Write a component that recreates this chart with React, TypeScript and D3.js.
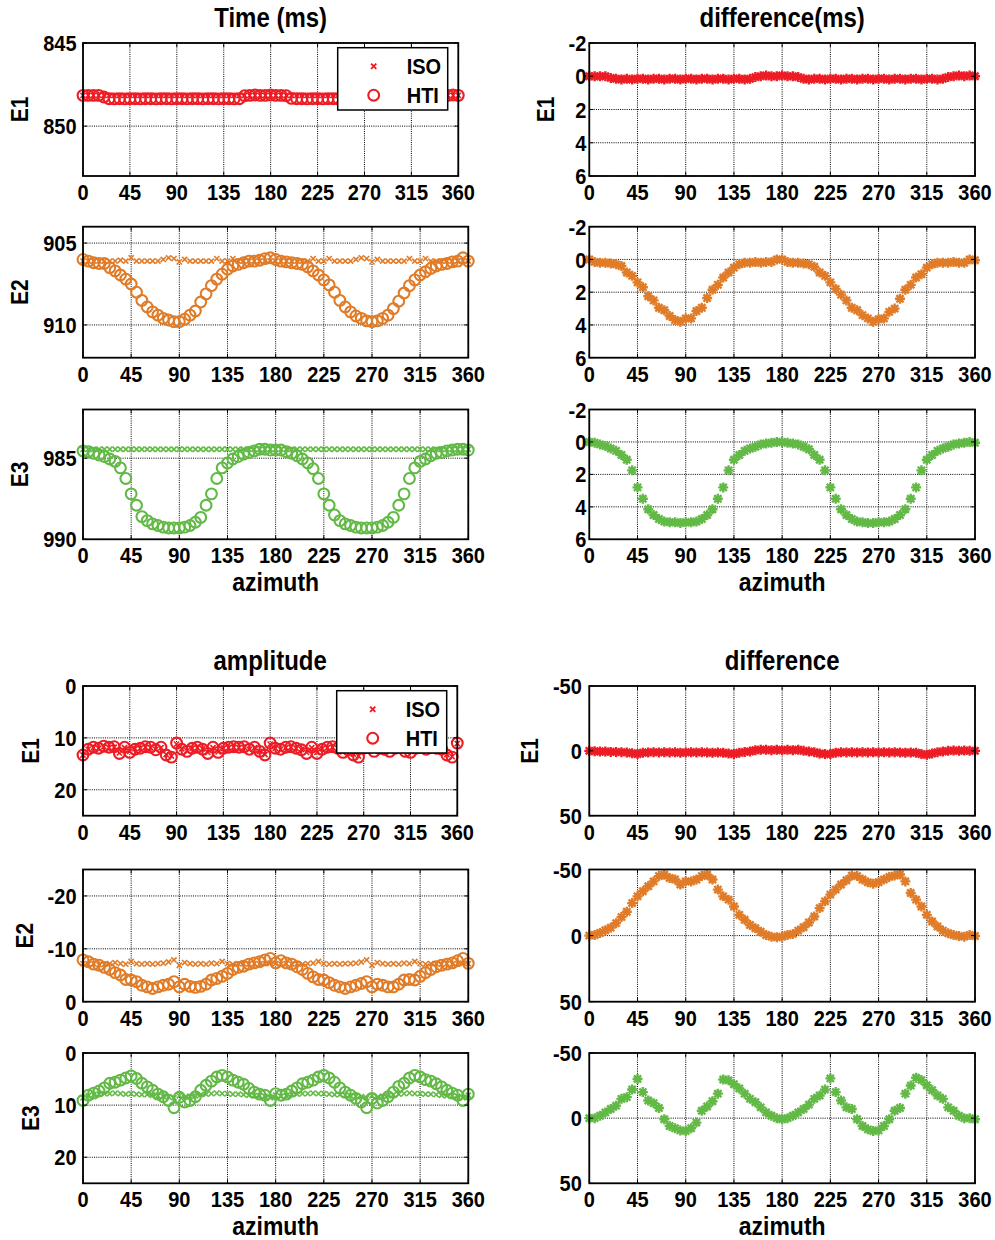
import React, { useEffect, useRef } from 'react';
import * as d3 from 'd3';

// azimuth samples (deg)
const AZIMUTH = [
  0, 5, 10, 15, 20, 25, 30, 35, 40, 45,
  50, 55, 60, 65, 70, 75, 80, 85, 90, 95,
  100, 105, 110, 115, 120, 125, 130, 135, 140, 145,
  150, 155, 160, 165, 170, 175, 180, 185, 190, 195,
  200, 205, 210, 215, 220, 225, 230, 235, 240, 245,
  250, 255, 260, 265, 270, 275, 280, 285, 290, 295,
  300, 305, 310, 315, 320, 325, 330, 335, 340, 345,
  350, 355, 360
];
const X_TICKS = [0, 45, 90, 135, 180, 225, 270, 315, 360];

// ---- Time (ms) ----
const TIME_E1_ISO = [
  848.15, 848.15, 848.15, 848.15, 848.15, 848.15, 848.15, 848.15, 848.15, 848.15,
  848.15, 848.15, 848.15, 848.15, 848.15, 848.15, 848.15, 848.15, 848.15, 848.15,
  848.15, 848.15, 848.15, 848.15, 848.15, 848.15, 848.15, 848.15, 848.15, 848.15,
  848.15, 848.15, 848.15, 848.15, 848.15, 848.15, 848.15, 848.15, 848.15, 848.15,
  848.15, 848.15, 848.15, 848.15, 848.15, 848.15, 848.15, 848.15, 848.15, 848.15,
  848.15, 848.15, 848.15, 848.15, 848.15, 848.15, 848.15, 848.15, 848.15, 848.15,
  848.15, 848.15, 848.15, 848.15, 848.15, 848.15, 848.15, 848.15, 848.15, 848.15,
  848.15, 848.15, 848.15
];
const TIME_E1_HTI = [
  848.15, 848.15, 848.15, 848.15, 848.25, 848.35, 848.36, 848.35, 848.36, 848.35,
  848.35, 848.36, 848.35, 848.35, 848.36, 848.35, 848.35, 848.36, 848.35, 848.35,
  848.36, 848.35, 848.35, 848.36, 848.35, 848.35, 848.36, 848.35, 848.35, 848.36,
  848.35, 848.17, 848.15, 848.13, 848.15, 848.15, 848.13, 848.15, 848.15, 848.17,
  848.33, 848.35, 848.35, 848.36, 848.35, 848.35, 848.36, 848.35, 848.35, 848.36,
  848.35, 848.35, 848.36, 848.35, 848.35, 848.36, 848.35, 848.35, 848.36, 848.35,
  848.35, 848.36, 848.35, 848.35, 848.36, 848.35, 848.33, 848.17, 848.15, 848.13,
  848.15, 848.13, 848.15
];
const TIME_E2_ISO = [
  906.1, 906.1, 906.1, 906.1, 906.1, 906.1, 906.1, 906.05, 906.1, 905.9,
  906.1, 906.1, 906.1, 906.1, 906.1, 906.0, 905.9, 905.95, 906.15, 906.0,
  906.1, 906.1, 906.1, 906.1, 906.1, 905.95, 906.1, 906.1, 905.95, 906.1,
  906.1, 906.1, 906.1, 906.1, 906.1, 906.1, 906.1, 906.1, 906.1, 906.1,
  906.1, 906.1, 906.1, 905.95, 906.1, 906.1, 905.95, 906.1, 906.1, 906.1,
  906.1, 906.0, 905.9, 905.95, 906.15, 906.0, 906.1, 906.1, 906.1, 906.1,
  906.1, 905.95, 906.1, 906.1, 905.95, 906.1, 906.1, 906.1, 906.1, 906.1,
  906.1, 906.1, 906.1
];
const TIME_E2_HTI = [
  906.0, 906.1, 906.2, 906.25, 906.25, 906.5, 906.7, 906.95, 907.2, 907.5,
  908.0, 908.5, 908.9, 909.2, 909.4, 909.6, 909.7, 909.8, 909.8, 909.65,
  909.4, 909.15, 908.6, 908.1, 907.6, 907.2, 906.9, 906.6, 906.4, 906.3,
  906.2, 906.1, 906.1, 906.05, 905.95, 905.9, 906.0, 906.1, 906.15, 906.2,
  906.25, 906.3, 906.45, 906.7, 906.95, 907.25, 907.55, 908.0, 908.5, 908.9,
  909.2, 909.45, 909.6, 909.75, 909.8, 909.75, 909.6, 909.4, 909.0, 908.55,
  908.05, 907.6, 907.25, 906.95, 906.75, 906.55, 906.4, 906.3, 906.25, 906.15,
  906.1, 905.9, 906.1
];
const TIME_E3_ISO = [
  984.45, 984.45, 984.45, 984.45, 984.45, 984.45, 984.45, 984.45, 984.45, 984.45,
  984.45, 984.45, 984.45, 984.45, 984.45, 984.45, 984.45, 984.45, 984.45, 984.45,
  984.45, 984.45, 984.45, 984.45, 984.45, 984.45, 984.45, 984.45, 984.45, 984.45,
  984.45, 984.45, 984.45, 984.45, 984.45, 984.45, 984.45, 984.45, 984.45, 984.45,
  984.45, 984.45, 984.45, 984.45, 984.45, 984.45, 984.45, 984.45, 984.45, 984.45,
  984.45, 984.45, 984.45, 984.45, 984.45, 984.45, 984.45, 984.45, 984.45, 984.45,
  984.45, 984.45, 984.45, 984.45, 984.45, 984.45, 984.45, 984.45, 984.45, 984.45,
  984.45, 984.45, 984.45
];
const TIME_E3_HTI = [
  984.55, 984.6, 984.7, 984.8, 984.9, 985.05, 985.2, 985.6, 986.25, 987.2,
  987.9, 988.6, 988.85, 989.05, 989.15, 989.25, 989.3, 989.3, 989.3, 989.25,
  989.15, 988.95, 988.65, 987.9, 987.2, 986.25, 985.6, 985.3, 985.05, 984.9,
  984.75, 984.65, 984.55, 984.45, 984.45, 984.5, 984.5, 984.5, 984.6, 984.7,
  984.85, 985.05, 985.3, 985.65, 986.25, 987.2, 987.9, 988.5, 988.85, 989.05,
  989.15, 989.25, 989.3, 989.3, 989.3, 989.25, 989.15, 988.95, 988.65, 987.9,
  987.2, 986.25, 985.6, 985.2, 985.05, 984.85, 984.7, 984.65, 984.55, 984.5,
  984.45, 984.45, 984.5
];

// ---- difference (ms) ----
const TIME_DIFF_E1 = [
  0, 0, 0, 0, 0.1, 0.15, 0.2, 0.15, 0.2, 0.15,
  0.15, 0.2, 0.15, 0.15, 0.2, 0.15, 0.15, 0.2, 0.15, 0.15,
  0.2, 0.15, 0.15, 0.2, 0.15, 0.15, 0.2, 0.15, 0.15, 0.2,
  0.15, 0.05, 0, -0.05, 0, 0, -0.05, 0, 0, 0.05,
  0.15, 0.2, 0.15, 0.15, 0.2, 0.15, 0.15, 0.2, 0.15, 0.15,
  0.2, 0.15, 0.15, 0.2, 0.15, 0.15, 0.2, 0.15, 0.15, 0.2,
  0.15, 0.15, 0.2, 0.15, 0.15, 0.2, 0.15, 0.05, 0, -0.05,
  0, -0.05, 0
];
const TIME_DIFF_E2 = [
  0, 0.15, 0.2, 0.2, 0.25, 0.3, 0.4, 0.8, 1.0, 1.4,
  1.7, 2.25, 2.5, 2.95, 3.1, 3.45, 3.7, 3.8, 3.6, 3.6,
  3.15, 2.95, 2.35, 1.85, 1.55, 1.1, 0.8, 0.5, 0.3, 0.2,
  0.2, 0.15, 0.2, 0.15, 0.15, 0, 0, 0.15, 0.2, 0.2,
  0.25, 0.3, 0.45, 0.8, 1.0, 1.4, 1.8, 2.15, 2.5, 2.95,
  3.1, 3.4, 3.6, 3.8, 3.65, 3.6, 3.2, 3.0, 2.4, 1.85,
  1.55, 1.1, 0.9, 0.5, 0.3, 0.2, 0.2, 0.2, 0.15, 0.2,
  0.2, 0, 0.05
];
const TIME_DIFF_E3 = [
  0, 0.05, 0.15, 0.25, 0.4, 0.55, 0.8, 1.1, 1.75, 2.8,
  3.5, 4.15, 4.5, 4.75, 4.9, 4.95, 4.95, 5.0, 4.95, 4.95,
  4.9, 4.75, 4.5, 4.15, 3.5, 2.8, 1.75, 1.1, 0.8, 0.55,
  0.4, 0.3, 0.15, 0.1, 0.05, 0, 0, 0.05, 0.1, 0.15,
  0.3, 0.45, 0.8, 1.1, 1.75, 2.8, 3.5, 4.15, 4.5, 4.75,
  4.9, 4.95, 5.0, 5.0, 4.95, 4.95, 4.9, 4.75, 4.5, 4.15,
  3.5, 2.8, 1.75, 1.1, 0.8, 0.55, 0.4, 0.3, 0.15, 0.1,
  0.05, 0, 0.05
];

// ---- amplitude ----
const AMP_E1_ISO = [
  13.3, 12.2, 11.9, 12.0, 11.7, 11.9, 11.8, 12.9, 11.9, 12.6,
  12.1, 12.0, 11.8, 11.9, 12.2, 11.9, 13.2, 13.5, 11.2, 12.1,
  12.5, 12.0, 11.9, 12.1, 12.8, 11.9, 12.7, 12.0, 11.9, 11.8,
  11.9, 11.8, 12.2, 11.9, 12.6, 13.2, 11.2, 12.0, 12.2, 11.9,
  11.8, 12.0, 12.2, 12.8, 11.9, 12.8, 12.1, 11.9, 11.8, 12.0,
  12.7, 12.2, 13.1, 13.5, 12.0, 11.9, 12.5, 12.0, 12.1, 12.5,
  12.0, 11.9, 12.5, 12.6, 12.0, 11.9, 12.2, 11.9, 12.0, 12.2,
  13.2, 13.6, 11.1
];
const AMP_E1_HTI = [
  13.3, 12.2, 11.8, 12.0, 11.6, 11.8, 11.7, 13.0, 11.8, 12.8,
  12.2, 12.0, 11.7, 11.8, 12.3, 11.8, 13.3, 13.7, 11.0, 12.2,
  12.6, 12.0, 11.8, 12.2, 13.0, 11.8, 12.8, 12.0, 11.8, 11.7,
  11.8, 11.7, 12.2, 11.8, 12.6, 13.3, 11.0, 12.0, 12.2, 11.8,
  11.7, 12.0, 12.3, 13.0, 11.8, 13.0, 12.2, 11.8, 11.7, 12.0,
  12.8, 12.3, 13.3, 13.7, 12.0, 11.8, 12.6, 12.0, 12.2, 12.6,
  12.0, 11.8, 12.6, 12.8, 12.0, 11.8, 12.2, 11.8, 12.0, 12.2,
  13.3, 13.7, 11.0
];
const AMP_E2_ISO = [
  -7.2, -7.1, -7.2, -7.0, -7.1, -7.2, -7.4, -7.2, -7.1, -7.6,
  -7.2, -7.1, -7.2, -7.1, -7.2, -7.3, -7.5, -7.9, -6.9, -7.4,
  -7.2, -7.1, -7.2, -7.1, -7.3, -7.2, -7.6, -7.2, -7.1, -7.2,
  -7.2, -7.1, -7.2, -7.1, -7.2, -7.3, -7.2, -7.1, -7.2, -7.1,
  -7.2, -7.1, -7.2, -7.3, -7.6, -7.2, -7.1, -7.2, -7.1, -7.2,
  -7.2, -7.3, -7.5, -7.9, -6.9, -7.4, -7.2, -7.1, -7.2, -7.1,
  -7.3, -7.2, -7.6, -7.2, -7.1, -7.2, -7.2, -7.1, -7.2, -7.1,
  -7.2, -7.3, -7.2
];
const AMP_E2_HTI = [
  -7.9, -7.55, -7.1, -6.9, -6.5, -6.1, -5.5, -5.05, -4.2, -4.1,
  -3.8, -3.1, -2.8, -2.5, -2.8, -3.1, -3.3, -3.8, -2.8, -3.3,
  -2.9, -2.7, -2.9, -3.3, -4.1, -4.4, -4.8, -5.35, -6.1, -6.5,
  -6.7, -7.1, -7.35, -7.55, -7.9, -8.2, -7.35, -7.75, -7.35, -7.1,
  -6.6, -6.1, -5.35, -4.7, -4.2, -4.1, -3.6, -3.1, -2.8, -2.5,
  -2.8, -3.1, -3.45, -3.8, -2.8, -3.3, -3.1, -2.8, -2.8, -3.3,
  -4.1, -4.2, -4.1, -4.8, -5.5, -6.1, -6.6, -6.9, -7.1, -7.35,
  -7.75, -8.2, -7.25
];
const AMP_E3_ISO = [
  8.6, 8.2, 8.0, 7.9, 7.8, 7.8, 7.7, 7.8, 7.9, 7.8,
  7.9, 8.0, 8.0, 8.1, 8.2, 8.3, 8.4, 8.6, 8.2, 8.5,
  8.3, 8.2, 8.0, 7.9, 7.8, 7.7, 7.8, 7.8, 7.9, 7.9,
  8.0, 8.1, 8.2, 8.2, 8.3, 8.6, 8.1, 8.3, 8.2, 8.0,
  7.9, 7.8, 7.8, 7.7, 7.8, 7.8, 7.9, 8.0, 8.0, 8.1,
  8.2, 8.3, 8.4, 8.6, 8.2, 8.5, 8.3, 8.2, 8.0, 7.9,
  7.8, 7.7, 7.8, 7.8, 7.9, 7.9, 8.0, 8.1, 8.2, 8.2,
  8.3, 8.6, 8.1
];
const AMP_E3_HTI = [
  9.1, 8.1, 7.7, 7.3, 6.7, 5.8, 5.6, 5.2, 4.8, 4.4,
  4.9, 5.8, 6.5, 7.15, 7.9, 8.4, 9.1, 10.5, 8.5, 9.4,
  9.1, 8.4, 7.15, 6.2, 5.4, 4.6, 4.3, 4.6, 5.2, 5.6,
  6.0, 6.8, 7.5, 7.9, 8.1, 9.1, 7.8, 8.1, 7.9, 7.3,
  6.7, 5.9, 5.6, 5.2, 4.6, 4.3, 4.8, 5.6, 6.7, 7.5,
  8.1, 8.7, 9.4, 10.5, 8.7, 9.6, 9.1, 8.4, 7.5, 6.4,
  5.8, 4.8, 4.3, 4.6, 5.1, 5.4, 5.9, 6.5, 7.15, 7.7,
  8.1, 9.1, 7.9
];

// ---- amplitude difference ----
const AMP_DIFF_E1 = [
  0, 0.3, 0.5, 0.5, 0.8, 0.8, 1.0, 1.2, 1.8, 2.5,
  1.5, 1.2, 1.0, 1.2, 1.0, 1.2, 1.0, 1.5, 1.2, 1.0,
  1.2, 1.0, 1.2, 1.5, 1.2, 1.5, 2.0, 2.5, 1.5, 0.8,
  0.5, -0.5, -0.8, -0.8, -0.5, -0.8, -0.5, -0.8, -0.5, -0.8,
  0, 0.5, 1.0, 2.0, 2.5, 2.5, 1.5, 1.0, 1.2, 1.0,
  1.2, 1.0, 1.2, 1.0, 1.2, 1.0, 1.2, 1.0, 1.2, 1.5,
  1.2, 1.5, 2.5, 3.0, 2.0, 1.0, 0.5, 0, -0.3, 0,
  -0.3, 0, 0
];
const AMP_DIFF_E2 = [
  0, -0.5, -2, -4, -6, -9.4, -14, -18, -24.6, -29.7,
  -33.5, -37.3, -41, -45, -46, -43.6, -42.4, -38.6, -41, -41,
  -42.4, -45, -46, -42.4, -34.8, -29.7, -27.2, -22, -15.7, -12,
  -8, -5.6, -3, -0.5, 0.8, 1.3, 0.8, -0.5, -1.3, -3.8,
  -6.3, -9.9, -14.5, -20.8, -25.9, -31, -34.8, -38.6, -41.9, -45.4,
  -45, -42.4, -40.4, -39.3, -40.4, -42.4, -44.4, -45.4, -46.2, -41,
  -32.2, -27.2, -22, -15.7, -10.7, -6.9, -3.8, -1.8, -0.5, 0.3,
  0.8, -0.5, 0.3
];
const AMP_DIFF_E3 = [
  0, 0, -1.8, -4.4, -7, -9.6, -14.8, -16.1, -22, -30,
  -20, -13.5, -11.5, -7.8, 0.8, 6, 7.8, 9.4, 9.9, 7.8,
  3.4, -5.7, -8.9, -13, -18.8, -29.7, -29, -26, -22.7, -18.8,
  -14.8, -12.2, -8.3, -4.4, -1.8, 0, 0.8, 0, -1.8, -4.4,
  -7, -10.4, -14.8, -17.4, -21.9, -30.5, -20, -13.5, -8.3, -7,
  0.8, 6, 8.6, 9.9, 9.4, 6, 0.8, -5.7, -7.8, -18.8,
  -25, -31, -29.2, -25.3, -21.4, -17.4, -14.8, -8.3, -5.7, -1.8,
  0, 0, 0.8
];

const RED = '#ed1c24';
const ORANGE = '#e07b28';
const GREEN = '#62b946';
const FONT = '"Liberation Sans", Arial, Helvetica, sans-serif';
const STRETCH = 1.12; // glyphs in the figure are a bit taller than wide

// subplot frames: left / right columns, 6 rows
const LEFT = [83, 468.3];
const RIGHT = [589.3, 975];
const ROWS = [[43, 176], [226.7, 357.7], [409.5, 539.3], [686, 815.7], [869.5, 1001.7], [1053, 1183.3]];

const PANELS = [
  { x: [83, 458.3], row: 0, domain: [845, 853], ticks: [845, 850], color: RED, iso: TIME_E1_ISO, hti: TIME_E1_HTI, title: 'Time (ms)', ylabel: 'E1', legend: true, gap: 6.5 },
  { x: LEFT, row: 1, domain: [904, 912], ticks: [905, 910], color: ORANGE, iso: TIME_E2_ISO, hti: TIME_E2_HTI, ylabel: 'E2', gap: 6.5 },
  { x: LEFT, row: 2, domain: [982, 990], ticks: [985, 990], color: GREEN, iso: TIME_E3_ISO, hti: TIME_E3_HTI, ylabel: 'E3', xlabel: true, gap: 6.5 },
  { x: RIGHT, row: 0, domain: [-2, 6], ticks: [-2, 0, 2, 4, 6], color: RED, diff: TIME_DIFF_E1, title: 'difference(ms)', ylabel: 'E1', gap: 3 },
  { x: RIGHT, row: 1, domain: [-2, 6], ticks: [-2, 0, 2, 4, 6], color: ORANGE, diff: TIME_DIFF_E2, gap: 3 },
  { x: RIGHT, row: 2, domain: [-2, 6], ticks: [-2, 0, 2, 4, 6], color: GREEN, diff: TIME_DIFF_E3, xlabel: true, gap: 3 },
  { x: [83, 457.3], row: 3, domain: [0, 25], ticks: [0, 10, 20], color: RED, iso: AMP_E1_ISO, hti: AMP_E1_HTI, title: 'amplitude', ylabel: 'E1', legend: true, gap: 6.5 },
  { x: LEFT, row: 4, domain: [-25, 0], ticks: [-20, -10, 0], color: ORANGE, iso: AMP_E2_ISO, hti: AMP_E2_HTI, ylabel: 'E2', gap: 6.5 },
  { x: LEFT, row: 5, domain: [0, 25], ticks: [0, 10, 20], color: GREEN, iso: AMP_E3_ISO, hti: AMP_E3_HTI, ylabel: 'E3', xlabel: true, gap: 6.5 },
  { x: RIGHT, row: 3, domain: [-50, 50], ticks: [-50, 0, 50], color: RED, diff: AMP_DIFF_E1, title: 'difference', ylabel: 'E1', gap: 7.5 },
  { x: RIGHT, row: 4, domain: [-50, 50], ticks: [-50, 0, 50], color: ORANGE, diff: AMP_DIFF_E2, gap: 7.5 },
  { x: RIGHT, row: 5, domain: [-50, 50], ticks: [-50, 0, 50], color: GREEN, diff: AMP_DIFF_E3, xlabel: true, gap: 7.5 }
];

// marker shapes
const CROSS = 'M-2.6,-2.6L2.6,2.6M-2.6,2.6L2.6,-2.6';
const STAR = 'M-5,0H5M0,-5V5M-3.6,-3.6L3.6,3.6M-3.6,3.6L3.6,-3.6';

// rough Arial-bold width of a tick label
const labelWidth = (s: string, size: number) =>
  s.split('').reduce((w, c) => w + (c === '-' ? 0.333 : 0.556), 0) * size;

// bold text, slightly stretched vertically, anchored at (x, y)
function addText(parent: any, x: number, y: number, txt: string, size: number, anchor = 'start', dy = '0') {
  return parent.append('text')
    .attr('transform', `translate(${x},${y}) scale(1,${STRETCH})`)
    .attr('dy', dy)
    .attr('text-anchor', anchor)
    .style('font-family', FONT).style('font-weight', 'bold').style('font-size', `${size}px`)
    .attr('fill', '#000')
    .text(txt);
}

function drawPanel(svg: any, p: any) {
  const [x0, x1] = p.x;
  const [y0, y1] = ROWS[p.row];
  const g = svg.append('g');

  const xScale = d3.scaleLinear().domain([0, 360]).range([x0, x1]);
  // all axes run reversed (small values on top)
  const yScale = d3.scaleLinear().domain(p.domain).range([y0, y1]);

  // dotted grid
  g.append('g').selectAll('line').data(X_TICKS).join('line')
    .attr('x1', d => xScale(d)).attr('x2', d => xScale(d))
    .attr('y1', y0).attr('y2', y1)
    .attr('stroke', '#000').attr('stroke-width', 1).attr('stroke-dasharray', '1,1.2');
  g.append('g').selectAll('line').data(p.ticks).join('line')
    .attr('x1', x0).attr('x2', x1)
    .attr('y1', d => yScale(d)).attr('y2', d => yScale(d))
    .attr('stroke', '#000').attr('stroke-width', 1).attr('stroke-dasharray', '1,1.2');

  // series
  if (p.iso) {
    g.append('g').selectAll('path').data(p.iso).join('path')
      .attr('transform', (d, i) => `translate(${xScale(AZIMUTH[i])},${yScale(d)})`)
      .attr('d', CROSS)
      .attr('fill', 'none').attr('stroke', p.color).attr('stroke-width', 1.6);
  }
  if (p.hti) {
    g.append('g').selectAll('circle').data(p.hti).join('circle')
      .attr('cx', (d, i) => xScale(AZIMUTH[i]))
      .attr('cy', d => yScale(d))
      .attr('r', 5.4)
      .attr('fill', 'none').attr('stroke', p.color).attr('stroke-width', 2.1);
  }
  if (p.diff) {
    g.append('g').selectAll('path').data(p.diff).join('path')
      .attr('transform', (d, i) => `translate(${xScale(AZIMUTH[i])},${yScale(d)})`)
      .attr('d', STAR)
      .attr('fill', 'none').attr('stroke', p.color).attr('stroke-width', 2.4);
  }

  // box
  g.append('rect')
    .attr('x', x0).attr('y', y0)
    .attr('width', x1 - x0).attr('height', y1 - y0)
    .attr('fill', 'none').attr('stroke', '#000').attr('stroke-width', 1.8);

  // inward ticks on all sides
  const tl = 4;
  const ticks = g.append('g').attr('stroke', '#000').attr('stroke-width', 1);
  X_TICKS.forEach(t => {
    ticks.append('line').attr('x1', xScale(t)).attr('x2', xScale(t)).attr('y1', y1).attr('y2', y1 - tl);
    ticks.append('line').attr('x1', xScale(t)).attr('x2', xScale(t)).attr('y1', y0).attr('y2', y0 + tl);
  });
  p.ticks.forEach(t => {
    ticks.append('line').attr('x1', x0).attr('x2', x0 + tl).attr('y1', yScale(t)).attr('y2', yScale(t));
    ticks.append('line').attr('x1', x1).attr('x2', x1 - tl).attr('y1', yScale(t)).attr('y2', yScale(t));
  });

  // tick labels
  X_TICKS.forEach(t => addText(g, xScale(t), y1 + 24, String(t), 20, 'middle'));
  p.ticks.forEach(t => addText(g, x0 - p.gap, yScale(t), String(t), 20, 'end', '0.36em'));

  if (p.title) addText(g, (x0 + x1) / 2, y0 - 16, p.title, 24, 'middle');
  if (p.ylabel) {
    const maxW = d3.max(p.ticks, (t: number) => labelWidth(String(t), 20));
    const bx = x0 - p.gap - maxW - 15;
    g.append('text')
      .attr('transform', `translate(${bx},${(y0 + y1) / 2}) rotate(-90) scale(1,${STRETCH})`)
      .attr('text-anchor', 'middle')
      .style('font-family', FONT).style('font-weight', 'bold').style('font-size', '21px')
      .text(p.ylabel);
  }
  if (p.xlabel) addText(g, (x0 + x1) / 2, y1 + 52, 'azimuth', 23, 'middle');

  // legend
  if (p.legend) {
    const lx = x1 - 120.6;
    const ly = y0 + 4.7;
    const lg = g.append('g');
    lg.append('rect')
      .attr('x', lx).attr('y', ly).attr('width', 110).attr('height', 62.3)
      .attr('fill', '#fff').attr('stroke', '#000').attr('stroke-width', 1.5);
    const items = [{ name: 'ISO', mark: 'x' }, { name: 'HTI', mark: 'o' }];
    items.forEach((it, i) => {
      const cy = ly + 18.5 + i * 29;
      if (it.mark === 'x') {
        lg.append('path').attr('transform', `translate(${lx + 36},${cy})`).attr('d', CROSS)
          .attr('fill', 'none').attr('stroke', p.color).attr('stroke-width', 1.9);
      } else {
        lg.append('circle').attr('cx', lx + 36).attr('cy', cy).attr('r', 5.4)
          .attr('fill', 'none').attr('stroke', p.color).attr('stroke-width', 2.1);
      }
      addText(lg, lx + 69, cy, it.name, 20, 'start', '0.36em');
    });
  }
}

export default function App() {
  const svgRef = useRef<SVGSVGElement>(null);

  useEffect(() => {
    const svg = d3.select(svgRef.current);
    svg.selectAll('*').remove();
    PANELS.forEach(p => drawPanel(svg, p));
  }, []);

  return (
    <div style={{ position: 'absolute', left: 0, top: 0 }}>
      <svg ref={svgRef} width={995} height={1240} style={{ display: 'block', background: '#fff' }} />
    </div>
  );
}
